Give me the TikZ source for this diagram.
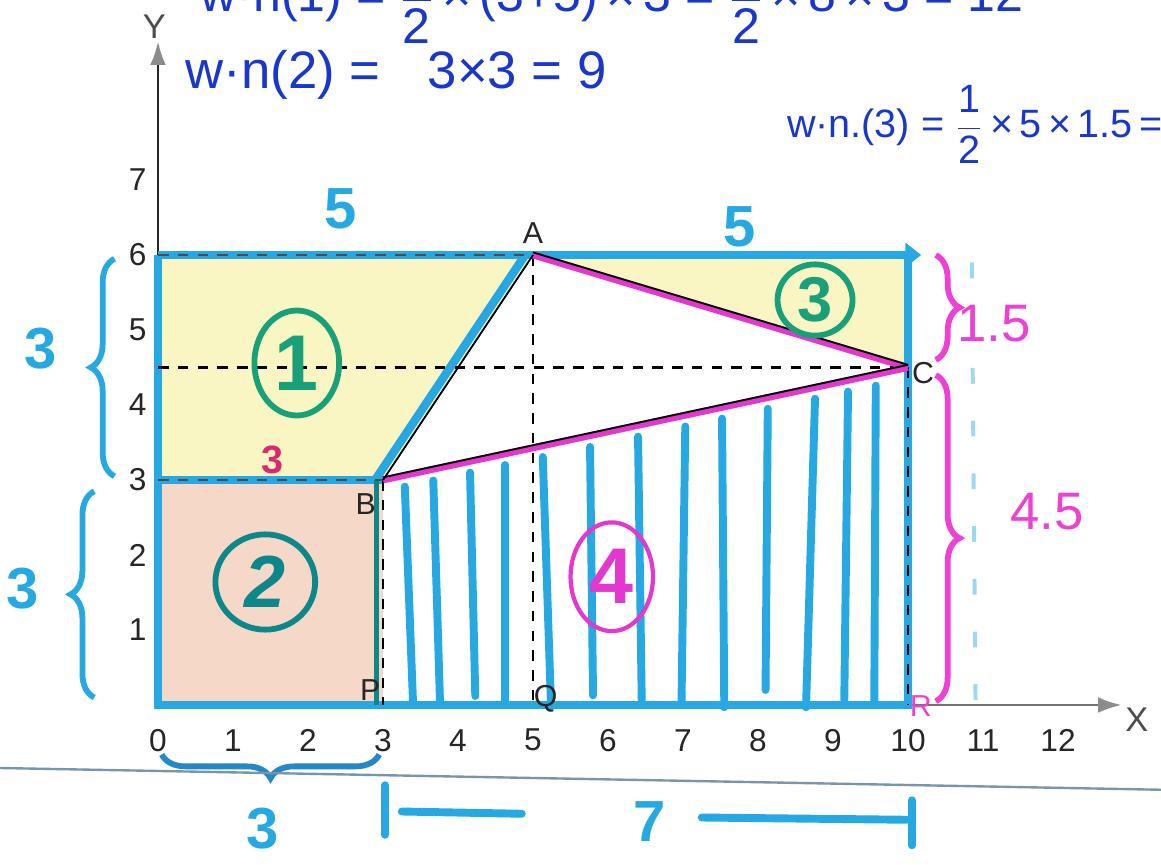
\documentclass[tikz,border=0pt]{standalone}
\usepackage{fontspec}
\setmainfont{Liberation Sans}
\usetikzlibrary{arrows.meta,decorations.pathreplacing,shapes.geometric}
\definecolor{cyanb}{RGB}{38,168,226}
\definecolor{yelf}{RGB}{250,246,196}
\definecolor{pinkf}{RGB}{246,216,200}
\definecolor{magl}{RGB}{226,56,205}
\definecolor{hgreen}{RGB}{24,160,120}
\definecolor{hteal}{RGB}{14,135,138}
\definecolor{inkblue}{RGB}{25,55,205}
\definecolor{braceblue}{RGB}{35,135,200}
\definecolor{redthree}{RGB}{222,40,110}
\definecolor{magtext}{RGB}{238,64,210}
\definecolor{scanline}{RGB}{120,150,170}
\newcommand{\myfrac}[2]{$\displaystyle{\mbox{#1}\over\mbox{#2}}$}
\tikzset{
  axisline/.style={line width=1.1pt, black!85},
  bluethick/.style={line width=3.2pt, cyanb},
  dashline/.style={line width=0.8pt, black, dash pattern=on 4pt off 3.5pt},
  hatchline/.style={line width=3pt, cyanb, line cap=round},
  magline/.style={line width=2.6pt, magl},
  thinblack/.style={line width=0.7pt, black},
  tick/.style={font=\fontsize{12}{14}\selectfont, text=black!85},
  ptlabel/.style={font=\fontsize{11.5}{14}\selectfont, text=black!85},
  cnum/.style={ellipse, draw, line width=2.2pt, inner sep=0pt, font=\bfseries\fontsize{30}{30}\selectfont},
  bignum/.style={font=\bfseries\fontsize{22}{24}\selectfont},
  bracestyle/.style={line width=2.2pt, decorate, decoration={brace, amplitude=9pt}},
  inktext/.style={text=inkblue, font=\fontsize{20}{22}\selectfont, inner sep=0pt},
  spanline/.style={cyanb, line width=3pt, line cap=round}
}
\begin{document}
\begin{tikzpicture}[x=1cm,y=1cm]
\useasboundingbox (-2.107,-2.133) rectangle (13.373,9.4);
\clip (-2.107,-2.133) rectangle (13.373,9.4);
\fill[white] (-2.107,-2.133) rectangle (13.373,9.4);
% key points
\coordinate (O) at (0,0);
\coordinate (A) at (5,6);
\coordinate (B) at (3,3);
\coordinate (C) at (10,4.5);
\coordinate (P) at (3,0);
\coordinate (Q) at (5,0);
\coordinate (R) at (10,0);
\coordinate (TL) at (0,6);
\coordinate (TR) at (10,6);
\coordinate (ML) at (0,3);
\coordinate (HL) at (0,4.5);
\coordinate (Ytop) at (0,8.85);
\coordinate (Xend) at (12.85,0);
% fills
\fill[yelf] (ML) -- (TL) -- (A) -- (B) -- cycle;
\fill[yelf] (A) -- (TR) -- (C) -- cycle;
\fill[pinkf] (O) rectangle (B);
% axes
\draw[axisline, -{Latex[length=9pt,width=6pt,color=black!45]}] (O) -- (Ytop);
\draw[axisline, black!55, -{Latex[length=9pt,width=6pt,color=black!45]}] (O) -- (Xend);
\node[font=\fontsize{13}{14}\selectfont, text=black!70] (ylab) at (-0.05,9.05) {Y};
\node[font=\fontsize{13}{14}\selectfont, text=black!70] (xlab) at (13.05,-0.2) {X};
% tick labels
\foreach \i in {0,...,12} \node[tick] (xt\i) at (\i,-0.47) {\i};
\foreach \j in {1,...,7} \node[tick] (yt\j) at (-0.27,\j) {\j};
% hatching of region 4
\foreach \xa/\xb/\yb in {3.29/3.4/0.03, 3.67/3.76/0.03, 4.16/4.23/0.12, 4.63/4.63/0.03, 5.13/5.24/-0.02, 5.76/5.8/0.13, 6.4/6.45/0.0, 7.03/6.98/0.05, 7.52/7.55/-0.03, 8.13/8.1/0.2, 8.76/8.64/-0.03, 9.2/9.15/0.07, 9.57/9.55/0.02}
  \draw[hatchline] (\xa,{3+(\xa-3)*1.5/7-0.15}) -- (\xb,\yb);
% faint scan line right of the figure
\draw[cyanb!45, line width=1.5pt, dash pattern=on 6pt off 14pt] (10.85,5.9) -- (10.9,0.05);
% blue outline
\draw[bluethick, -{Triangle[length=6pt,width=9pt]}] (TL) -- ([xshift=5pt]TR);
\draw[bluethick] (TR) -- (R) -- (O) -- (TL);
\draw[bluethick] (ML) -- (B);
\draw[bluethick] ([xshift=-3pt]B) -- ([xshift=-3pt]A);
\draw[hteal, line width=2pt] ([xshift=-2.5pt]B) -- ([xshift=-2.5pt]P);
% black dashed guides
\draw[dashline] (HL) -- (C);
\draw[dashline] (A) -- (Q);
\draw[dashline] (B) -- (P);
\draw[dashline] (C) -- (R);
\draw[dashline, black!70] (TL) -- (A);
\draw[dashline, black!70] (ML) -- (B);
% triangle sides
\draw[magline] (A) -- (C);
\draw[magline] (B) -- (C);
\draw[thinblack] ([yshift=1pt]A) -- ([yshift=1pt]C);
\draw[thinblack] ([yshift=1pt]B) -- ([yshift=1pt]C);
\draw[thinblack] (B) -- (A);
% point labels
\node[ptlabel, above=1pt] (lA) at (A) {A};
\node[ptlabel] (lB) at (2.77,2.68) {B};
\node[ptlabel] (lC) at (10.2,4.42) {C};
\node[ptlabel] (lP) at (2.83,0.2) {P};
\node[ptlabel] (lQ) at (5.17,0.08) {Q};
\node[ptlabel, text=magtext] (lR) at (10.17,-0.02) {R};
% circled region numbers
\node[cnum, hgreen, minimum width=1.13cm, minimum height=1.4cm] (n1) at (1.85,4.56) {1};
\node[cnum, hteal, minimum width=1.33cm, minimum height=1.27cm, font=\bfseries\itshape\fontsize{28}{28}\selectfont] (n2) at (1.43,1.64) {2};
\node[cnum, hgreen, minimum width=1.0cm, minimum height=0.95cm, font=\bfseries\fontsize{24}{24}\selectfont] (n3) at (8.76,5.4) {3};
\node[cnum, magl, line width=1.6pt, minimum width=1.1cm, minimum height=1.45cm] (n4) at (6.05,1.71) {4};
% length labels
\node[bignum, text=cyanb] (five1) at (2.43,6.62) {5};
\node[bignum, text=cyanb] (five2) at (7.76,6.38) {5};
\node[bignum, text=redthree, font=\bfseries\fontsize{15}{16}\selectfont] (three3) at (1.53,3.27) {3};
% left braces
\draw[bracestyle, cyanb] (-0.58,3.05) -- (-0.58,5.95);
\node[bignum, text=cyanb] (three1) at (-1.57,4.75) {3};
\draw[bracestyle, cyanb] (-0.85,0.1) -- (-0.85,2.85);
\node[bignum, text=cyanb] (three2) at (-1.8,1.55) {3};
% right braces
\draw[bracestyle, magtext] (10.37,6.0) -- (10.37,4.6);
\node[text=magtext, font=\fontsize{20}{22}\selectfont] (w15) at (11.15,5.08) {1.5};
\draw[bracestyle, magtext] (10.37,4.4) -- (10.37,0.05);
\node[text=magtext, font=\fontsize{20}{22}\selectfont] (w45) at (11.85,2.58) {4.5};
% bottom brace and 7 span
\draw[bracestyle, braceblue] (2.95,-0.66) -- (0.05,-0.66);
\node[bignum, text=cyanb] (three4) at (1.39,-1.65) {3};
\coordinate (s1t) at (3.03,-1.07);
\coordinate (s1b) at (3.03,-1.73);
\coordinate (s2t) at (10.05,-1.27);
\coordinate (s2b) at (10.05,-1.87);
\coordinate (l1) at (3.25,-1.42);
\coordinate (l2) at (4.85,-1.45);
\coordinate (r1) at (7.25,-1.5);
\coordinate (r2) at (9.98,-1.53);
\node[bignum, text=cyanb] (seven) at (6.56,-1.55) {7};
\draw[spanline] (s1t) -- (s1b);
\draw[spanline] (s2t) -- (s2b);
\draw[spanline] (l1) -- (l2);
\draw[spanline] (r1) -- (r2);
% scan edge line
\draw[scanline, line width=0.9pt] (-2.107,-0.84) -- (13.373,-1.13);
% worked areas
\node[inktext, anchor=base west, font=\fontsize{19}{21}\selectfont] (wn1) at (0.56,9.24) {w·n(1) = \myfrac{1}{2}\,×\,(3+5)\,×\,3 = \myfrac{1}{2}\,×\,8\,×\,3 = 12};
\node[inktext, anchor=west] (wn2) at (0.36,8.4) {w·n(2) =\hspace{18pt}3×3 = 9};
\node[inktext, anchor=west, font=\fontsize{15}{17}\selectfont] (wn3) at (8.38,7.74) {w·n.(3) = \myfrac{1}{2}\,×\,5\,×\,1.5\,=};
\end{tikzpicture}
\end{document}
